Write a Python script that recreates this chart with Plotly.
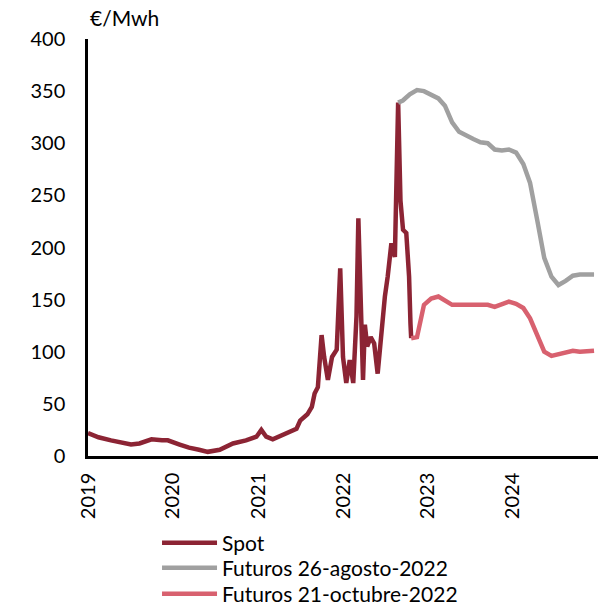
import plotly.graph_objects as go

# Spot price (EUR/MWh)
spot_dates = [
    "2019-01-01", "2019-02-15", "2019-04-10", "2019-05-20", "2019-07-05", "2019-08-10",
    "2019-10-01", "2019-11-15", "2019-12-10", "2020-01-30", "2020-03-10", "2020-04-22",
    "2020-05-30", "2020-07-20", "2020-09-15", "2020-11-10", "2020-12-25", "2021-01-15",
    "2021-02-05", "2021-03-05", "2021-04-30", "2021-06-15", "2021-07-01", "2021-08-01",
    "2021-08-20", "2021-09-01", "2021-09-15", "2021-10-01", "2021-10-12", "2021-10-28",
    "2021-11-15", "2021-12-05", "2021-12-20", "2022-01-01", "2022-01-15", "2022-01-30",
    "2022-02-14", "2022-02-28", "2022-03-08", "2022-03-20", "2022-03-28", "2022-04-05",
    "2022-04-15", "2022-04-30", "2022-05-15", "2022-05-30", "2022-06-15", "2022-06-30",
    "2022-07-12", "2022-07-28", "2022-08-12", "2022-08-19", "2022-08-26", "2022-09-05",
    "2022-09-16", "2022-09-30", "2022-10-12", "2022-10-18", "2022-10-21",
]
spot_values = [
    22, 18, 15, 13, 11, 12,
    16, 15, 15, 11, 8, 6,
    4, 6, 12, 15, 18.5, 25,
    18.5, 16, 21, 26, 34, 40,
    47, 60, 66, 116, 95, 73,
    95, 102, 180, 95, 70, 92,
    70, 134, 228, 127, 73, 126,
    105, 114, 108, 79, 124, 153,
    172, 204, 191, 271, 339, 245,
    217, 214, 172, 127, 113,
]

# Futures curve as of 26 August 2022
fut_aug_dates = [
    "2022-08-26", "2022-09-15", "2022-10-15", "2022-11-15", "2022-12-15",
    "2023-01-15", "2023-02-15", "2023-03-15", "2023-04-15", "2023-05-15", "2023-06-15",
    "2023-07-15", "2023-08-15", "2023-09-15", "2023-10-15", "2023-11-15", "2023-12-15",
    "2024-01-15", "2024-02-15", "2024-03-15", "2024-04-15", "2024-05-15", "2024-06-15",
    "2024-07-15", "2024-08-15", "2024-09-15", "2024-10-15", "2024-11-15", "2024-12-15",
]
fut_aug_values = [
    339, 341, 347, 351, 350,
    347, 343, 336, 320, 311, 307,
    304, 301, 300, 294, 293, 294,
    291, 280, 262, 226, 190, 172,
    164, 168, 173, 174, 174, 174,
]

# Futures curve as of 21 October 2022
fut_oct_dates = [
    "2022-10-21", "2022-11-15", "2022-12-15",
    "2023-01-15", "2023-02-15", "2023-03-15", "2023-04-15", "2023-05-15", "2023-06-15",
    "2023-07-15", "2023-08-15", "2023-09-15", "2023-10-15", "2023-11-15", "2023-12-15",
    "2024-01-15", "2024-02-15", "2024-03-15", "2024-04-15", "2024-05-15", "2024-06-15",
    "2024-07-15", "2024-08-15", "2024-09-15", "2024-10-15", "2024-11-15", "2024-12-15",
]
fut_oct_values = [
    113, 114, 145,
    151, 153, 149, 145, 145, 145,
    146, 145, 145, 143, 146, 148,
    146, 142, 132, 115, 100, 96,
    98, 99, 101, 100, 101, 101,
]

year_ticks = ["2019-01-01", "2020-01-01", "2021-01-01", "2022-01-01", "2023-01-01", "2024-01-01"]
year_labels = ["2019", "2020", "2021", "2022", "2023", "2024"]

FONT = "Lato, 'Open Sans', sans-serif"

fig = go.Figure()

# one legend per series so the rows can sit where the reference has them
fig.add_scatter(x=spot_dates, y=spot_values, mode="lines", name="Spot",
                line=dict(color="#8C2434", width=4.5), legend="legend")
fig.add_scatter(x=fut_aug_dates, y=fut_aug_values, mode="lines",
                name="Futuros 26-agosto-2022",
                line=dict(color="#A0A0A0", width=4.5), legend="legend2")
fig.add_scatter(x=fut_oct_dates, y=fut_oct_values, mode="lines",
                name="Futuros 21-octubre-2022",
                line=dict(color="#D8616F", width=4.5), legend="legend3")


def legend_box(y):
    return dict(
        xref="container", yref="container",
        x=0.257, y=y, xanchor="left", yanchor="middle",
        font=dict(size=21),
        itemwidth=55,
        bgcolor="rgba(0,0,0,0)",
    )


fig.update_layout(
    width=611,
    height=606,
    margin=dict(l=88, r=13, t=39, b=150, autoexpand=False),
    paper_bgcolor="white",
    plot_bgcolor="white",
    font=dict(family=FONT, size=20, color="black"),
    showlegend=True,
    legend=legend_box(1 - 543 / 606),
    legend2=legend_box(1 - 568 / 606),
    legend3=legend_box(1 - 594 / 606),
    xaxis=dict(
        range=["2019-01-01", "2025-01-01"],
        tickvals=year_ticks,
        ticktext=year_labels,
        tickangle=-90,
        showgrid=False,
        zeroline=False,
        showline=True,
        linecolor="black",
        linewidth=2.5,
        ticks="",
        ticklabelstandoff=6,
    ),
    yaxis=dict(
        range=[0, 400],
        tickvals=[0, 50, 100, 150, 200, 250, 300, 350, 400],
        showgrid=False,
        zeroline=False,
        showline=True,
        linecolor="black",
        linewidth=2.5,
        ticks="",
        ticklabelstandoff=16,
    ),
    annotations=[
        dict(text="€/Mwh", xref="paper", yref="paper", x=0.0, y=1.0,
             xanchor="left", yanchor="bottom", yshift=7, showarrow=False,
             font=dict(size=21)),
    ],
)

# drop the default page margin so the figure sits at the window's corner
fig.write_html("out.html", config={"displayModeBar": False},
               post_script="document.body.style.margin = '0';")
